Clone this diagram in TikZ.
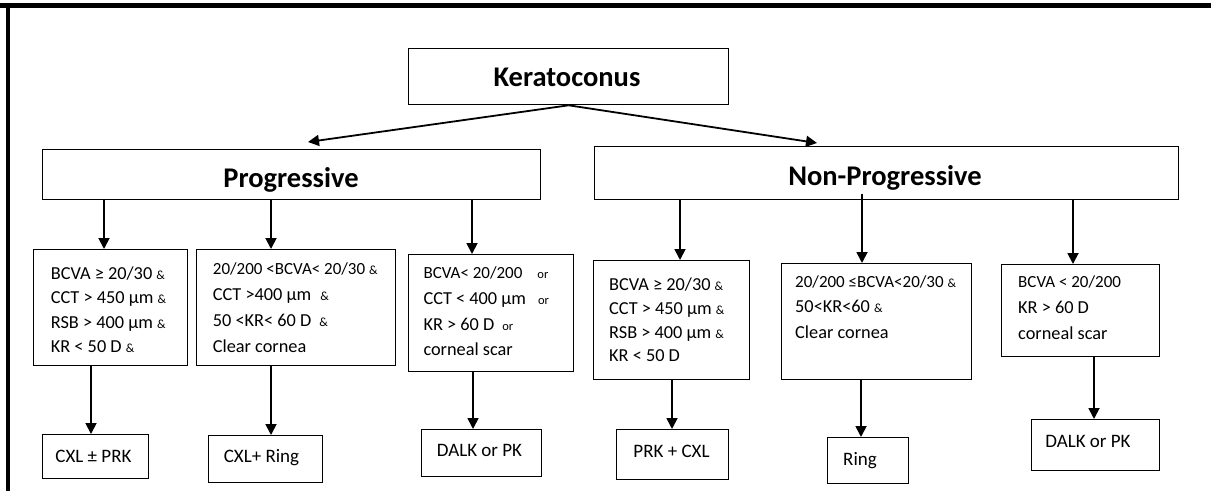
\documentclass[tikz,border=0pt]{standalone}
\usepackage{fontspec}
\setmainfont{Carlito}
\usetikzlibrary{arrows.meta}
\newcommand\smamp{{\fontsize{12.5}{14}\selectfont\&}}
\newcommand\smor{{\fontsize{12.5}{14}\selectfont or}}
\newcommand\smtxt{\fontsize{17}{20}\selectfont}
\begin{document}
\begin{tikzpicture}[x=1pt,y=-1pt,
  box/.style={draw=black, line width=1.3pt, inner sep=0pt, anchor=north west},
  arr/.style={-{Triangle[length=11pt,width=11pt]}, line width=1.8pt},
  ttl/.style={font=\fontsize{28.5}{30}\selectfont\bfseries, inner sep=0pt, text height=18.4pt, text depth=0pt},
  res/.style={font=\fontsize{19}{22}\selectfont, inner sep=0pt, text height=12.2pt, text depth=0pt},
  ct/.style={font=\fontsize{18.3}{21}\selectfont, inner sep=0pt, anchor=west, text height=11.5pt, text depth=0pt}]
\useasboundingbox (0,0) rectangle (1211,491);
% frame (top and left edges)
\draw[line width=4.5pt] (0,5.5) -- (1211,5.5);
\draw[line width=4pt] (7.5,3.5) -- (7.5,491);

% boxes
\node[box, minimum width=320pt, minimum height=56pt] (kc) at (408,48) {};
\node[box, minimum width=498pt, minimum height=50pt] (prog) at (42,149) {};
\node[box, minimum width=584pt, minimum height=53pt] (np) at (594,146) {};
\node[box, minimum width=154pt, minimum height=116pt] (b1) at (33,249) {};
\node[box, minimum width=199pt, minimum height=116pt] (b2) at (196,249) {};
\node[box, minimum width=165pt, minimum height=117pt] (b3) at (408,254) {};
\node[box, minimum width=156pt, minimum height=119pt] (b4) at (593,260) {};
\node[box, minimum width=190pt, minimum height=116pt] (b5) at (781,263) {};
\node[box, minimum width=158pt, minimum height=92pt] (b6) at (1001,264) {};
\node[box, minimum width=106pt, minimum height=44pt] (r1) at (42,434) {};
\node[box, minimum width=114pt, minimum height=47pt] (r2) at (208,435) {};
\node[box, minimum width=120pt, minimum height=47pt] (r3) at (421,429) {};
\node[box, minimum width=112pt, minimum height=50pt] (r4) at (616,429) {};
\node[box, minimum width=81pt, minimum height=46pt] (r5) at (827,437) {};
\node[box, minimum width=128pt, minimum height=51pt] (r6) at (1031,419) {};

% titles
\node[ttl] (kct) at (567,77) {Keratoconus};
\node[ttl] (progt) at (291,178) {Progressive};
\node[ttl] (npt) at (885,176) {Non-Progressive};

% condition texts
\foreach \t [count=\i] in {{BCVA ≥ 20/30 \smamp},{CCT > 450 µm \smamp},{RSB > 400 µm \smamp},{KR < 50 D \smamp}}
  \node[ct] (b1t\i) at (50.7,{273.3+24.5*(\i-1)}) {\t};
\foreach \t [count=\i] in {{\smtxt 20/200 <BCVA< 20/30 \smamp},{CCT >400 µm\hspace{9pt}\smamp},{50 <KR< 60 D\hspace{8pt}\smamp},{Clear cornea}}
  \node[ct] (b2t\i) at (212.7,{268.3+26*(\i-1)}) {\t};
\foreach \t [count=\i] in {{\smtxt BCVA< 20/200\hspace{15pt}\smor},{CCT < 400 µm\hspace{12pt}\smor},{KR > 60 D\hspace{8pt}\smor},{corneal scar}}
  \node[ct] (b3t\i) at (423.3,{273+25.7*(\i-1)}) {\t};
\foreach \t [count=\i] in {{BCVA ≥ 20/30 \smamp},{CCT > 450 µm \smamp},{RSB > 400 µm \smamp},{KR < 50 D}}
  \node[ct] (b4t\i) at (609,{285+23.7*(\i-1)}) {\t};
\foreach \t [count=\i] in {{\smtxt 20/200 ≤BCVA<20/30 \smamp},{50<KR<60 \smamp},{Clear cornea}}
  \node[ct] (b5t\i) at (795,{281.7+25.5*(\i-1)}) {\t};
\foreach \t [count=\i] in {{\smtxt BCVA < 20/200},{KR > 60 D},{corneal scar}}
  \node[ct] (b6t\i) at (1018,{281.7+26*(\i-1)}) {\t};

% result texts
\node[res] (r1t) at (93.5,456) {CXL ± PRK};
\node[res] (r2t) at (261.5,456) {CXL+ Ring};
\node[res] (r3t) at (479.5,450) {DALK or PK};
\node[res] (r4t) at (671.5,451) {PRK + CXL};
\node[res] (r5t) at (860,459) {Ring};
\node[res] (r6t) at (1088,441) {DALK or PK};

% arrows from Keratoconus
\coordinate (pl) at (308,142);
\coordinate (nl) at (817,143);
\draw[arr] (kc.south) -- (pl);
\draw[arr] (kc.south) -- (nl);

% arrows from category boxes
\coordinate (u1) at (104,0);
\coordinate (u2) at (271,0);
\coordinate (u3) at (472,0);
\coordinate (u4) at (680,0);
\coordinate (u5) at (862,0);
\coordinate (u6) at (1073,0);
\draw[arr] (prog.south -| u1) -- (b1.north -| u1);
\draw[arr] (prog.south -| u2) -- (b2.north -| u2);
\draw[arr] (prog.south -| u3) -- (b3.north -| u3);
\draw[arr] (np.south -| u4) -- (b4.north -| u4);
\draw[arr] ([yshift=6.5pt]np.south -| u5) -- (b5.north -| u5);
\draw[arr] (np.south -| u6) -- (b6.north -| u6);

% arrows to results
\coordinate (d1) at (91,0);
\coordinate (d2) at (271,0);
\coordinate (d3) at (473,0);
\coordinate (d4) at (672,0);
\coordinate (d5) at (861,0);
\coordinate (d6) at (1094,0);
\draw[arr] (b1.south -| d1) -- (r1.north -| d1);
\draw[arr] (b2.south -| d2) -- (r2.north -| d2);
\draw[arr] (b3.south -| d3) -- (r3.north -| d3);
\draw[arr] (b4.south -| d4) -- (r4.north -| d4);
\draw[arr] (b5.south -| d5) -- (r5.north -| d5);
\draw[arr] (b6.south -| d6) -- (r6.north -| d6);
\end{tikzpicture}
\end{document}
